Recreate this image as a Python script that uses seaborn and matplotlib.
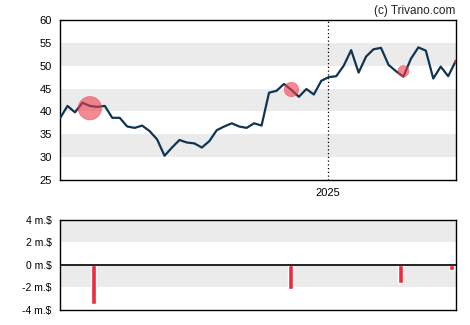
import numpy as np
import pandas as pd
import matplotlib
matplotlib.use("Agg")
import matplotlib.pyplot as plt
import matplotlib.dates as mdates
import seaborn as sns

# Weekly closing prices
start_date = "2024-04-25"
prices = [38.5, 41.2, 39.8, 41.9, 41.2, 41.0, 41.2, 38.6, 38.6, 36.7,
          36.4, 36.9, 35.7, 33.9, 30.3, 32.1, 33.75, 33.2, 33.0, 32.1,
          33.5, 35.9, 36.7, 37.4, 36.7, 36.4, 37.4, 36.9, 44.1, 44.5,
          46.0, 44.7, 43.2, 44.9, 43.7, 46.7, 47.5, 47.7, 50.0, 53.4,
          48.5, 52.0, 53.6, 53.9, 50.2, 48.8, 47.6, 51.5, 54.0, 53.3,
          47.2, 49.8, 47.7, 51.0]

# Insider transactions: trade date, price and net value (million $)
trade_dates = ["2024-05-23", "2024-11-28", "2025-03-13", "2025-05-01"]
trade_prices = [40.7, 44.8, 48.8, 51.0]
trade_values = [-3.4, -2.1, -1.6, -0.4]

# Net insider flow per period (million $)
flow_dates = ["2024-05-26", "2024-11-27", "2025-03-10", "2025-04-27"]
flow_values = [-3.45, -2.13, -1.57, -0.41]

price_ticks = [25, 30, 35, 40, 45, 50, 55, 60]
flow_ticks = [4, 2, 0, -2, -4]
flow_tick_labels = ["4 m.\\$", "2 m.\\$", "0 m.\\$", "-2 m.\\$", "-4 m.\\$"]
year_mark = "2025-01-01"

sns.set_style("white")
plt.rcParams["font.family"] = ["Liberation Sans", "DejaVu Sans"]

LINE = "#0f3552"
RED = "#ee2a3e"
BAND = "#ebebeb"

dates = pd.date_range(start_date, periods=len(prices), freq="7D")
price_df = pd.DataFrame({"date": dates, "price": prices})
trade_df = pd.DataFrame({"date": pd.to_datetime(trade_dates),
                         "price": trade_prices,
                         "value": trade_values})
trade_df["area"] = 24.5 * trade_df["value"] ** 2

flow_num = mdates.date2num(pd.to_datetime(flow_dates).to_pydatetime())
flow_df = pd.DataFrame({"x": flow_num, "value": flow_values})

fig = plt.figure(figsize=(4.7, 3.25), dpi=100)
ax = fig.add_axes([0.1277, 0.4462, 0.8418, 0.4923])
axb = fig.add_axes([0.1277, 0.0462, 0.8418, 0.2769])

x0 = mdates.date2num(dates[0].to_pydatetime())
x1 = mdates.date2num(dates[-1].to_pydatetime())

# --- price panel ---
for lo in (30, 40, 50):
    ax.axhspan(lo, lo + 5, color=BAND, lw=0, zorder=0)
sns.lineplot(data=price_df, x="date", y="price", color=LINE, lw=1.6,
             ax=ax, zorder=3)
sns.scatterplot(data=trade_df, x="date", y="price", s=trade_df["area"],
                color="#f03c4c", alpha=0.6, edgecolor="#f03c4c",
                linewidth=0.5, ax=ax, zorder=4, legend=False)
ym = mdates.date2num(pd.Timestamp(year_mark).to_pydatetime())
ax.axvline(ym, color="black", lw=0.9, ls=(0, (1, 2)), zorder=2)
ax.set_xlim(x0, x1)
ax.set_ylim(25, 60)
ax.set_yticks(price_ticks)
ax.set_xticks([ym])
ax.set_xticklabels(["2025"])
ax.set_xlabel("")
ax.set_ylabel("")

# --- insider flow panel ---
for lo in (2, -2):
    axb.axhspan(lo, lo + 2, color=BAND, lw=0, zorder=0)
gap = np.min(np.diff(np.sort(flow_num)))
sns.barplot(data=flow_df, x="x", y="value", native_scale=True,
            width=4.7 / gap, color=RED, saturation=1, ax=axb, zorder=3)
axb.axhline(0, color="black", lw=1.2, zorder=4)
axb.set_xlim(x0, x1)
axb.set_ylim(-4, 4)
axb.set_yticks(flow_ticks)
axb.set_yticklabels(flow_tick_labels)
axb.set_xticks([])
axb.set_xlabel("")
axb.set_ylabel("")

for a in (ax, axb):
    for sp in a.spines.values():
        sp.set_visible(True)
        sp.set_color("black")
        sp.set_linewidth(1.0)
    a.tick_params(axis="both", direction="out", length=4, width=0.9,
                  color="black", labelcolor="black", pad=2)
ax.tick_params(labelsize=8)
axb.tick_params(labelsize=7.5)

fig.text(0.9695, 0.958, "(c) Trivano.com", ha="right", va="baseline",
         fontsize=8.5, color="#222222")

fig.savefig("out.png", dpi=100)
